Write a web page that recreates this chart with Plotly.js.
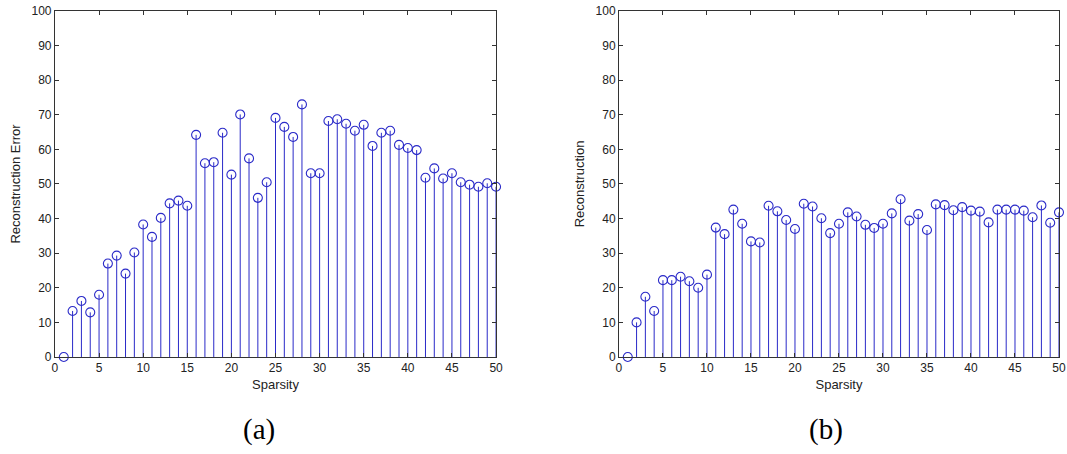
<!DOCTYPE html>
<html>
<head>
<meta charset="utf-8">
<script src="https://cdn.plot.ly/plotly-3.0.1.min.js"></script>
<style>html,body{margin:0;padding:0;background:#fff;}#plot{width:1067px;height:454px;}</style>
</head>
<body>
<div id="plot"></div>
<script>
// Sparsity levels (x) shared by both panels
const sparsity = [1,2,3,4,5,6,7,8,9,10,11,12,13,14,15,16,17,18,19,20,21,22,23,24,25,
                  26,27,28,29,30,31,32,33,34,35,36,37,38,39,40,41,42,43,44,45,46,47,48,49,50];
// Panel (a): Reconstruction Error
const reconError = [0,13.3,16.2,12.9,18.0,27.0,29.3,24.1,30.2,38.3,34.7,40.2,44.4,45.2,43.7,
                    64.2,56.0,56.3,64.8,52.7,70.1,57.4,46.0,50.5,69.1,66.5,63.6,73.0,53.1,53.1,
                    68.2,68.7,67.4,65.4,67.1,61.0,64.8,65.4,61.3,60.4,59.8,51.8,54.5,51.6,53.1,
                    50.5,49.8,49.2,50.2,49.2];
// Panel (b): Reconstruction
const recon = [0,10.0,17.4,13.3,22.2,22.2,23.2,21.9,20.0,23.8,37.4,35.5,42.6,38.5,33.4,
               33.1,43.7,42.1,39.6,37.0,44.3,43.5,40.1,35.8,38.5,41.8,40.6,38.2,37.3,38.5,
               41.5,45.6,39.4,41.3,36.7,44.1,43.9,42.4,43.3,42.3,42.0,38.9,42.6,42.6,42.6,
               42.3,40.4,43.8,38.8,41.8];
const xTicks = [0,5,10,15,20,25,30,35,40,45,50];
const yTicks = [0,10,20,30,40,50,60,70,80,90,100];
const panelLabels = ['(a)','(b)'];
const yTitles = ['Reconstruction Error','Reconstruction'];
const xTitle = 'Sparsity';

const stemColor = '#2a2ac8';

function stemTraces(xs, ys, xa, ya){
  const sx = [], sy = [];
  xs.forEach((x,i)=>{ sx.push(x,x,null); sy.push(0,ys[i],null); });
  return [
    {x:sx, y:sy, xaxis:xa, yaxis:ya, mode:'lines', type:'scatter',
     line:{color:stemColor, width:1}, hoverinfo:'skip', showlegend:false, cliponaxis:false},
    {x:xs, y:ys, xaxis:xa, yaxis:ya, mode:'markers', type:'scatter', cliponaxis:false,
     marker:{symbol:'circle-open', size:9, color:stemColor, line:{width:1.1, color:stemColor}},
     showlegend:false}
  ];
}

const data = [...stemTraces(sparsity, reconError, 'x', 'y'),
              ...stemTraces(sparsity, recon, 'x2', 'y2')];

const tickFont = {family:'Liberation Sans, Arial, Helvetica, sans-serif', size:12, color:'#222'};
const titleFont = {family:'Liberation Sans, Arial, Helvetica, sans-serif', size:13, color:'#222'};

function xAxis(domain, anchor){
  return {domain:domain, anchor:anchor, range:[0,50], tickvals:xTicks, ticktext:xTicks.map(String),
    ticks:'inside', ticklen:4, tickcolor:'#333', showline:true, linecolor:'#333', linewidth:1,
    mirror:'ticks', showgrid:false, zeroline:false, tickfont:tickFont, ticklabeloverflow:'allow',
    title:{text:xTitle, font:titleFont, standoff:5}};
}
function yAxis(anchor, title){
  return {domain:[0.2137,0.9758], anchor:anchor, range:[0,100], tickvals:yTicks, ticktext:yTicks.map(String),
    ticks:'inside', ticklen:4, tickcolor:'#333', showline:true, linecolor:'#333', linewidth:1,
    mirror:'ticks', showgrid:false, zeroline:false, tickfont:tickFont, ticklabeloverflow:'allow',
    title:{text:title, font:titleFont, standoff:7}};
}

const layout = {
  width:1067, height:454,
  margin:{l:0, r:0, t:0, b:0, pad:0},
  paper_bgcolor:'#fff', plot_bgcolor:'#fff',
  showlegend:false,
  xaxis: xAxis([0.0515,0.4649], 'y'),
  yaxis: yAxis('x', yTitles[0]),
  xaxis2: xAxis([0.5801,0.9925], 'y2'),
  yaxis2: yAxis('x2', yTitles[1]),
  annotations:[
    {text:panelLabels[0], xref:'paper', yref:'paper', x:0.2432, y:0.053, xanchor:'center', yanchor:'middle',
     showarrow:false, font:{family:'Liberation Serif, DejaVu Serif, serif', size:29, color:'#000'}},
    {text:panelLabels[1], xref:'paper', yref:'paper', x:0.774, y:0.053, xanchor:'center', yanchor:'middle',
     showarrow:false, font:{family:'Liberation Serif, DejaVu Serif, serif', size:29, color:'#000'}}
  ]
};

Plotly.newPlot('plot', data, layout, {staticPlot:true, displayModeBar:false});
</script>
</body>
</html>
